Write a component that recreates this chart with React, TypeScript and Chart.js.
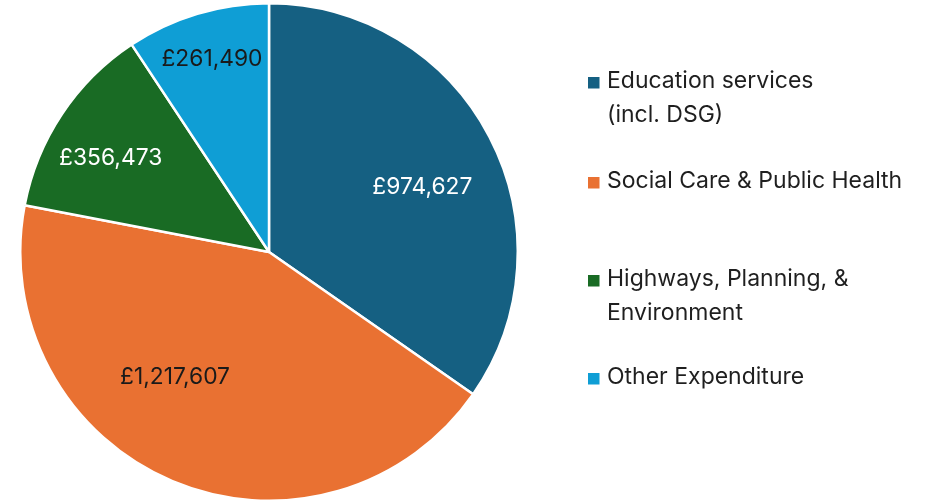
import React, { useEffect, useRef } from "react";
import { Chart, registerables } from "chart.js";

Chart.register(...registerables);

const categories: string[][] = [
  ["Education services", "(incl. DSG)"],
  ["Social Care & Public Health"],
  ["Highways, Planning, &", "Environment"],
  ["Other Expenditure"],
];
const values: number[] = [974627, 1217607, 356473, 261490];
const valueLabels: string[] = ["£974,627", "£1,217,607", "£356,473", "£261,490"];
const colors: string[] = ["#156082", "#E97132", "#196B24", "#0F9ED5"];
const labelColors: string[] = ["#ffffff", "#1a1a1a", "#ffffff", "#1a1a1a"];

// label placement (fraction of radius, angular offset in degrees)
const labelRadius: number[] = [0.67, 0.63, 0.74, 0.81];
const labelAngleOffset: number[] = [4.5, 14, -3, 0.3];

const FONT = "Inter, 'Noto Sans', sans-serif";

const legendPlugin = {
  id: "customLegendAndLabels",
  afterDatasetsDraw(chart: any) {
    const ctx = chart.ctx as CanvasRenderingContext2D;
    const meta = chart.getDatasetMeta(0);
    ctx.save();
    ctx.font = `22.8px ${FONT}`;
    ctx.textAlign = "center";
    ctx.textBaseline = "middle";
    meta.data.forEach((arc: any, i: number) => {
      const p = arc.getProps(["x", "y", "startAngle", "endAngle", "outerRadius"], true);
      const mid = (p.startAngle + p.endAngle) / 2 + (labelAngleOffset[i] * Math.PI) / 180;
      const r = p.outerRadius * labelRadius[i];
      ctx.fillStyle = labelColors[i];
      ctx.fillText(valueLabels[i], p.x + Math.cos(mid) * r, p.y + Math.sin(mid) * r);
    });

    // legend
    const itemY = [81, 181, 279, 377];
    const lineGap = 34;
    ctx.textAlign = "left";
    ctx.font = `23px ${FONT}`;
    categories.forEach((lines, i) => {
      ctx.fillStyle = colors[i];
      ctx.fillRect(588, itemY[i] - 4, 11.5, 11.5);
      ctx.fillStyle = "#1f1f1f";
      lines.forEach((ln, j) => {
        ctx.fillText(ln, 607, itemY[i] + j * lineGap);
      });
    });
    ctx.restore();
  },
};

export default function App() {
  const ref = useRef<HTMLCanvasElement | null>(null);
  useEffect(() => {
    if (!ref.current) return;
    const chart = new Chart(ref.current, {
      type: "pie",
      data: {
        labels: categories.map((c) => c.join(" ")),
        datasets: [
          {
            data: values,
            backgroundColor: colors,
            borderColor: "#ffffff",
            borderWidth: 2.5,
          },
        ],
      },
      options: {
        animation: false,
        responsive: false,
        devicePixelRatio: 1,
        layout: { padding: { left: 19, right: 417, top: 2, bottom: 0 } },
        plugins: { legend: { display: false }, tooltip: { enabled: false } },
      },
      plugins: [legendPlugin],
    });
    return () => chart.destroy();
  }, []);
  return (
    <div style={{ position: "absolute", left: 0, top: 0, width: 936, height: 502, background: "#fff" }}>
      <canvas ref={ref} width={936} height={502} style={{ width: 936, height: 502 }} />
    </div>
  );
}
